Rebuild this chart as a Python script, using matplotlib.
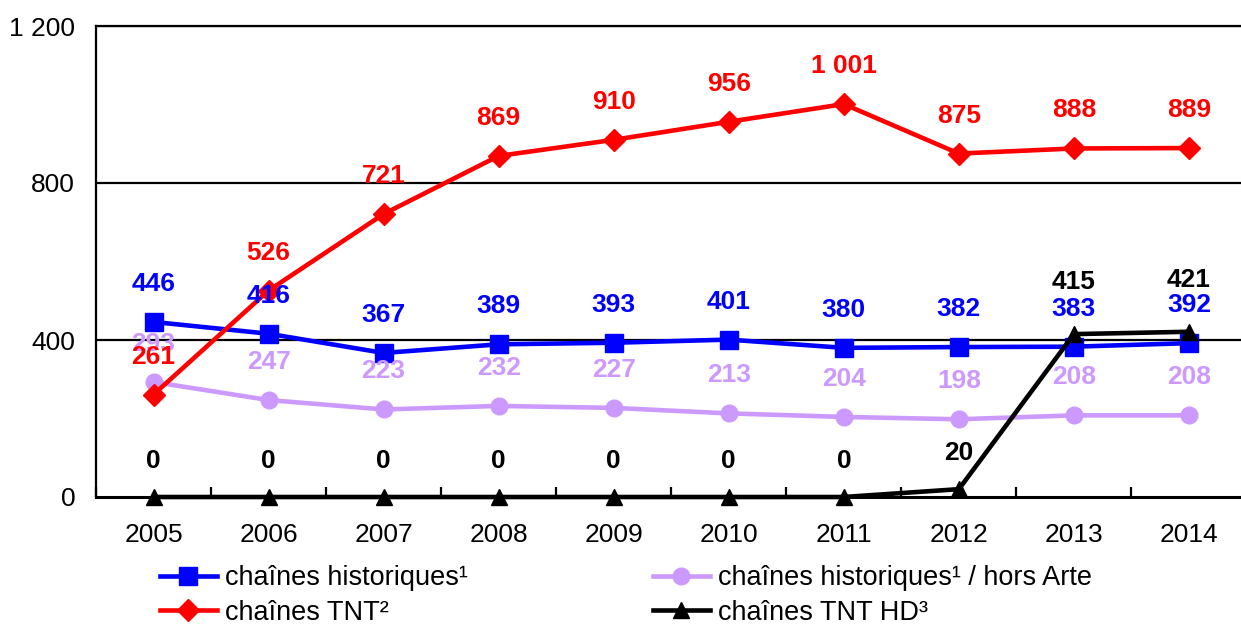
import matplotlib
matplotlib.use("Agg")
import matplotlib.pyplot as plt
from matplotlib.lines import Line2D
import numpy as np

plt.rcParams['font.family'] = ['Liberation Sans', 'DejaVu Sans']

years = ["2005", "2006", "2007", "2008", "2009", "2010", "2011", "2012", "2013", "2014"]
historiques = [446, 416, 367, 389, 393, 401, 380, 382, 383, 392]
hors_arte = [293, 247, 223, 232, 227, 213, 204, 198, 208, 208]
tnt = [261, 526, 721, 869, 910, 956, 1001, 875, 888, 889]
tnt_hd = [0, 0, 0, 0, 0, 0, 0, 20, 415, 421]
yticks = [0, 400, 800, 1200]

def fmt(v):
    return f"{v:,}".replace(",", " ")

fig = plt.figure(figsize=(12.41, 6.26), dpi=100)
ax = fig.add_axes([96/1241, 129/626, 1150.5/1241, 471/626])
x = np.arange(len(years))

ax.set_xlim(-0.5, len(years) - 0.5)
ax.set_ylim(0, 1200)

for yv in yticks[1:]:
    ax.axhline(yv, color='black', lw=1.6, zorder=1)

LW = 3.3
ax.plot(x, historiques, color='#0000FF', lw=LW, marker='s', ms=12.5, zorder=4, clip_on=False)
ax.plot(x, hors_arte, color='#CC99FF', lw=LW, marker='o', ms=12, zorder=3, clip_on=False)
ax.plot(x, tnt, color='#FF0000', lw=LW, marker='D', ms=11, zorder=5, clip_on=False)
ax.plot(x, tnt_hd, color='black', lw=LW, marker='^', ms=11, zorder=6, clip_on=False)

lab_kw = dict(textcoords='offset pixels', ha='center', va='center',
              fontsize=19, fontweight='bold', zorder=10)
for i in range(len(years)):
    ax.annotate(fmt(historiques[i]), (x[i], historiques[i]), xytext=(0, 38), color='#0000FF', **lab_kw)
    ax.annotate(fmt(hors_arte[i]), (x[i], hors_arte[i]), xytext=(0, 38), color='#CC99FF', **lab_kw)
    ax.annotate(fmt(tnt[i]), (x[i], tnt[i]), xytext=(0, 38), color='#FF0000', **lab_kw)
    off = 52 if tnt_hd[i] > 100 else 36
    ax.annotate(fmt(tnt_hd[i]), (x[i], tnt_hd[i]), xytext=(0, off), color='black', **lab_kw)

ax.spines['right'].set_visible(False)
ax.spines['top'].set_linewidth(1.6)
ax.spines['left'].set_linewidth(1.6)
ax.spines['bottom'].set_linewidth(2.2)

ax.set_yticks(yticks)
ax.set_yticklabels([fmt(v) for v in yticks], fontsize=19)
ax.tick_params(axis='y', length=0, pad=15)

ax.set_xticks(x)
ax.set_xticklabels(years, fontsize=19)
ax.tick_params(axis='x', which='major', length=0, pad=19)
ax.set_xticks(np.arange(-0.5, len(years), 1.0), minor=True)
ax.tick_params(axis='x', which='minor', direction='in', length=7, width=1.6)

h1 = Line2D([], [], color='#0000FF', lw=LW, marker='s', ms=12.5)
h2 = Line2D([], [], color='#CC99FF', lw=LW, marker='o', ms=12)
h3 = Line2D([], [], color='#FF0000', lw=LW, marker='D', ms=11)
h4 = Line2D([], [], color='black', lw=LW, marker='^', ms=11)

leg_kw = dict(frameon=False, fontsize=19.5, handlelength=2.1, handletextpad=0.3,
              labelspacing=0.33, borderpad=0, borderaxespad=0, loc='upper left')
fig.legend([h1, h3], ["chaînes historiques¹", "chaînes TNT²"],
           bbox_to_anchor=(160/1241, 1 - 565/626), **leg_kw)
fig.legend([h2, h4], ["chaînes historiques¹ / hors Arte", "chaînes TNT HD³"],
           bbox_to_anchor=(653/1241, 1 - 565/626), **leg_kw)

fig.savefig("out.png", dpi=100)
